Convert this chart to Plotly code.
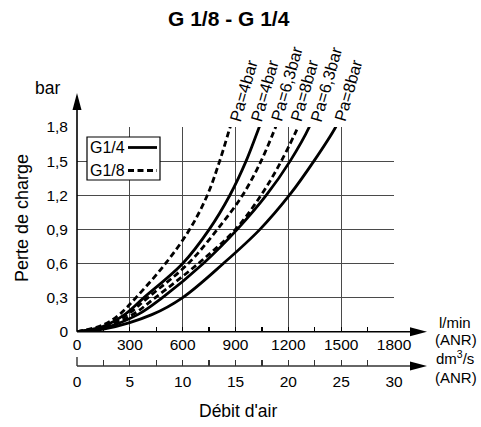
import plotly.graph_objects as go

# ---------------- data ----------------
# G1/8 (dashed)
g18_4_x = [0, 150, 240, 335, 503, 640, 740, 810, 870, 875]
g18_4_y = [0, 0.06, 0.15, 0.3, 0.6, 0.9, 1.2, 1.5, 1.8, 1.82]
g18_63_x = [0, 150, 285, 403, 632, 797, 940, 1045, 1128, 1133]
g18_63_y = [0, 0.043, 0.15, 0.3, 0.6, 0.9, 1.2, 1.5, 1.8, 1.82]
g18_8_x = [0, 150, 315, 445, 689, 900, 1045, 1160, 1255, 1260]
g18_8_y = [0, 0.036, 0.15, 0.3, 0.6, 0.9, 1.2, 1.5, 1.8, 1.82]
# G1/4 (solid)
g14_4_x = [0, 150, 270, 380, 600, 751, 868, 960, 1035, 1040]
g14_4_y = [0, 0.048, 0.15, 0.3, 0.6, 0.9, 1.2, 1.5, 1.8, 1.82]
g14_63_x = [0, 150, 345, 485, 717, 910, 1075, 1210, 1319, 1324]
g14_63_y = [0, 0.031, 0.15, 0.3, 0.6, 0.9, 1.2, 1.5, 1.8, 1.82]
g14_8_x = [0, 150, 425, 600, 831, 1039, 1206, 1345, 1469, 1475]
g14_8_y = [0, 0.022, 0.15, 0.3, 0.6, 0.9, 1.2, 1.5, 1.8, 1.82]

pressure_ticks = [0, 0.3, 0.6, 0.9, 1.2, 1.5, 1.8]
pressure_labels = ["0", "0,3", "0,6", "0,9", "1,2", "1,5", "1,8"]
flow_ticks = [0, 300, 600, 900, 1200, 1500, 1800]
flow_labels = ["0", "300", "600", "900", "1200", "1500", "1800"]
dm3_ticks = [0, 5, 10, 15, 20, 25, 30]
dm3_labels = ["0", "5", "10", "15", "20", "25", "30"]
X_RANGE = [0, 1800]
Y_RANGE = [0, 1.8]

curves = [
    (g18_4_x, g18_4_y, "dash", "Pa=4bar"),
    (g14_4_x, g14_4_y, "solid", "Pa=4bar"),
    (g18_63_x, g18_63_y, "dash", "Pa=6,3bar"),
    (g18_8_x, g18_8_y, "dash", "Pa=8bar"),
    (g14_63_x, g14_63_y, "solid", "Pa=6,3bar"),
    (g14_8_x, g14_8_y, "solid", "Pa=8bar"),
]
# pixel nudges for the rotated curve labels (style, not data)
label_xshift = [-7, -15, -12, -14, -6, -8]

# ---------------- layout geometry (screen pixels) ----------------
W, H = 481, 427
ML, MT = 77, 127
PW, PH = 317, 239
MR, MB = W - ML - PW, H - MT - PH
Y0_PX = 331.7                   # screen row of 0 bar
BOT_PX = MT + PH                # screen row of paper bottom (dm3 axis)
D0 = (BOT_PX - Y0_PX) / PH

FONT = "Liberation Sans"
DASH = "6px,3.5px"
GRID = "#4a4a4a"


def px(xp, yp):
    return (xp - ML) / PW, (BOT_PX - yp) / PH


def data_to_paper(x, y):
    return ((x - X_RANGE[0]) / (X_RANGE[1] - X_RANGE[0]),
            D0 + (1 - D0) * (y - Y_RANGE[0]) / (Y_RANGE[1] - Y_RANGE[0]))


fig = go.Figure()
shapes = []
annos = []

for (xs, ys, style, lab), dx in zip(curves, label_xshift):
    fig.add_trace(go.Scatter(
        x=xs, y=ys, mode="lines",
        line=dict(color="black", width=2.8,
                  dash=DASH if style == "dash" else "solid",
                  shape="spline", smoothing=1.0),
        showlegend=False, hoverinfo="skip"))
    ax_, ay_ = data_to_paper(xs[-1], ys[-1])
    annos.append(dict(x=ax_, y=ay_, xref="paper", yref="paper",
                      text=lab, showarrow=False, textangle=-74,
                      xanchor="left", yanchor="bottom", xshift=dx, yshift=-1,
                      font=dict(family=FONT, size=16.5, color="black")))

# dummy trace to activate the second (dm3/s) axis
fig.add_trace(go.Scatter(x=[0, 30], y=[None, None], xaxis="x2", yaxis="y",
                         mode="lines", showlegend=False, hoverinfo="skip"))

# axis lines with arrow heads
tip_x, _ = px(427, 0)
AL, AW = 17, 4.5
for yline, col in ((D0, "black"), (0.0, "#333")):
    shapes.append(dict(type="line", xref="paper", yref="paper",
                       x0=0, x1=tip_x - AL / PW * 0.5, y0=yline, y1=yline,
                       line=dict(color=col, width=1.6)))
    shapes.append(dict(type="path", xref="paper", yref="paper",
                       path=f"M {tip_x} {yline} L {tip_x - AL / PW} {yline + AW / PH} "
                            f"L {tip_x - AL / PW} {yline - AW / PH} Z",
                       fillcolor="black", line=dict(width=0)))
_, tip_y = px(0, 93)
shapes.append(dict(type="line", xref="paper", yref="paper",
                   x0=0, x1=0, y0=D0, y1=tip_y - AL / PH * 0.5,
                   line=dict(color="black", width=1.6)))
shapes.append(dict(type="path", xref="paper", yref="paper",
                   path=f"M 0 {tip_y} L {-AW / PW} {tip_y - AL / PH} L {AW / PW} {tip_y - AL / PH} Z",
                   fillcolor="black", line=dict(width=0)))
# taller tick at start of dm3 axis
shapes.append(dict(type="line", xref="paper", yref="paper", x0=0, x1=0,
                   y0=0, y1=9 / PH, line=dict(color="#333", width=1.4)))

# legend box
bx0, by0 = px(87, 137)
bx1, by1 = px(160, 180)
shapes.append(dict(type="rect", xref="paper", yref="paper", x0=bx0, x1=bx1,
                   y0=by1, y1=by0, fillcolor="white",
                   line=dict(color="black", width=1.2), layer="above"))
for yy, dash, lab in ((147.5, "solid", "G1/4"), (170.5, "dash", "G1/8")):
    lx0, ly = px(128, yy)
    lx1, _ = px(157, yy)
    shapes.append(dict(type="line", xref="paper", yref="paper", x0=lx0, x1=lx1,
                       y0=ly, y1=ly, layer="above",
                       line=dict(color="black", width=2.8,
                                 dash=DASH if dash == "dash" else "solid")))
    tx, ty = px(88, yy)
    annos.append(dict(x=tx, y=ty, xref="paper", yref="paper", text=lab,
                      showarrow=False, xanchor="left", yanchor="middle",
                      font=dict(family=FONT, size=16, color="black")))


def text_at(xp, yp, t, size, **kw):
    x, y = px(xp, yp)
    d = dict(x=x, y=y, xref="paper", yref="paper", text=t, showarrow=False,
             xanchor="center", yanchor="middle",
             font=dict(family=FONT, size=size, color="black"))
    d.update(kw)
    annos.append(d)


text_at(228.5, 18, "<b>G 1/8 - G 1/4</b>", 21)
text_at(47.5, 88, "bar", 17.5)
text_at(22, 218, "Perte de charge", 18, textangle=-90)
text_at(238, 411, "Débit d'air", 17.5)
text_at(455, 322, "l/min", 15)
text_at(456, 339, "(ANR)", 15)
text_at(455, 357, "dm<sup>3</sup>/s", 15)
text_at(456, 377, "(ANR)", 15)

fig.update_layout(
    width=W, height=H,
    margin=dict(l=ML, r=MR, t=MT, b=MB, pad=0, autoexpand=False),
    paper_bgcolor="white", plot_bgcolor="white",
    showlegend=False,
    font=dict(family=FONT, size=15, color="black"),
    shapes=shapes, annotations=annos,
    xaxis=dict(range=X_RANGE, tickvals=flow_ticks, ticktext=flow_labels,
               showgrid=True, gridcolor=GRID, gridwidth=1,
               zeroline=False, showline=False,
               ticks="inside", ticklen=5, tickcolor="black", tickwidth=1.3,
               minor=dict(dtick=150, ticks="inside", ticklen=5,
                          tickcolor="black", tickwidth=1.3, showgrid=False),
               tickfont=dict(family=FONT, size=15.5), ticklabelstandoff=2,
               anchor="y", fixedrange=True),
    xaxis2=dict(range=[0, 30], tickvals=dm3_ticks, ticktext=dm3_labels,
                overlaying="x", anchor="free", position=0, side="bottom",
                showgrid=False, zeroline=False, showline=False,
                ticks="inside", ticklen=6, tickcolor="#333", tickwidth=1.3,
                minor=dict(dtick=2.5, ticks="inside", ticklen=6,
                           tickcolor="#333", tickwidth=1.3, showgrid=False),
                tickfont=dict(family=FONT, size=15.5), ticklabelstandoff=4,
                fixedrange=True),
    yaxis=dict(range=Y_RANGE, domain=[D0, 1], tickvals=pressure_ticks,
               ticktext=pressure_labels, showgrid=True, gridcolor=GRID,
               gridwidth=1, zeroline=False, showline=False, ticks="",
               ticklabelstandoff=8, tickfont=dict(family=FONT, size=15.5),
               fixedrange=True),
)

fig.write_html("out.html",
               config={"displayModeBar": False, "staticPlot": True},
               post_script="document.body.style.margin='0px';"
                           "document.body.style.overflow='hidden';")
